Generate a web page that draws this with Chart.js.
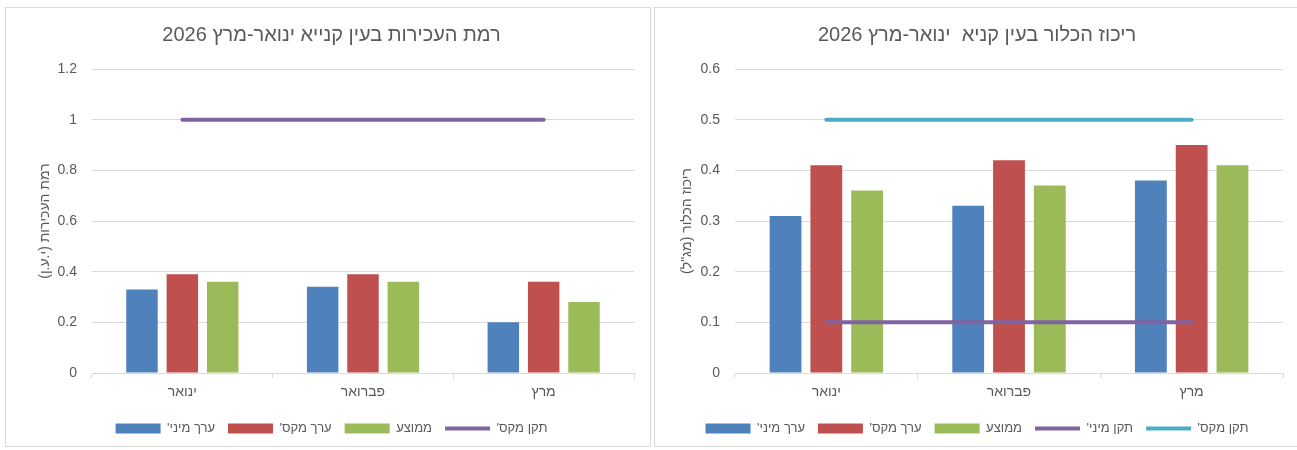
<!DOCTYPE html>
<html>
<head>
<meta charset="utf-8">
<script src="https://cdn.jsdelivr.net/npm/chart.js@4"></script>
<style>
  body { margin: 0; background: #fff; overflow: hidden; }
  .frame { position: absolute; top: 7px; height: 440px; border: 1px solid #d9d9d9; box-sizing: border-box; }
  #f1 { left: 5px; width: 646px; }
  #f2 { left: 654px; width: 646px; }
  .box { position: absolute; top: 8px; height: 437px; }
  #p1 { left: 6px; width: 644px; }
  #p2 { left: 655px; width: 644px; }
  canvas { direction: rtl; }
</style>
</head>
<body>
<div class="frame" id="f1"></div>
<div class="frame" id="f2"></div>
<div class="box" id="p1"><canvas id="turbidity"></canvas></div>
<div class="box" id="p2"><canvas id="chlorine"></canvas></div>
<script>
let months = ["ינואר", "פברואר", "מרץ"];

// turbidity (left)
let turbMin = [0.33, 0.34, 0.2];
let turbMax = [0.39, 0.39, 0.36];
let turbAvg = [0.36, 0.36, 0.28];
let turbStdMax = [1, 1, 1];
let turbTicks = ["0", "0.2", "0.4", "0.6", "0.8", "1", "1.2"];

// chlorine (right)
let chlMin = [0.31, 0.33, 0.38];
let chlMax = [0.41, 0.42, 0.45];
let chlAvg = [0.36, 0.37, 0.41];
let chlStdMin = [0.1, 0.1, 0.1];
let chlStdMax = [0.5, 0.5, 0.5];
let chlTicks = ["0", "0.1", "0.2", "0.3", "0.4", "0.5", "0.6"];

const grey = "#595959";
const gridColor = "#d9d9d9";
Chart.defaults.font.family = "'Liberation Sans', 'DejaVu Sans', Arial, sans-serif";
Chart.defaults.color = grey;

function barSet(label, data, color) {
  return {
    type: "bar",
    label: label,
    data: data,
    backgroundColor: color,
    borderWidth: 0,
    pointStyle: "rect",
    order: 1,
    categoryPercentage: 0.67,
    barPercentage: 0.78,
  };
}

function lineSet(label, data, color) {
  return {
    type: "line",
    label: label,
    data: data,
    borderColor: color,
    backgroundColor: color,
    borderWidth: 4,
    borderCapStyle: "round",
    pointRadius: 0,
    pointHoverRadius: 0,
    pointStyle: "line",
    fill: false,
    order: 0,
  };
}

function makeConfig(title, yTitle, datasets, max, step, tickLabels, padLeft, yWidth) {
  return {
    type: "bar",
    data: { labels: months, datasets: datasets },
    options: {
      responsive: true,
      maintainAspectRatio: false,
      animation: false,
      layout: { padding: { left: padLeft, right: 16, top: 0, bottom: 0 } },
      plugins: {
        title: {
          display: true,
          text: title,
          color: grey,
          font: { size: 20, weight: "normal" },
          padding: { top: 15, bottom: 22 },
        },
        legend: {
          position: "bottom",
          labels: {
            usePointStyle: true,
            pointStyleWidth: 45,
            boxHeight: 10,
            padding: 13,
            color: grey,
            font: { size: 13 },
            sort: (a, b) => a.datasetIndex - b.datasetIndex,
          },
        },
        tooltip: { enabled: false },
      },
      scales: {
        x: {
          grid: {
            drawOnChartArea: false,
            drawTicks: true,
            tickLength: 5,
            color: gridColor,
          },
          border: { color: gridColor },
          ticks: { color: grey, font: { size: 14 }, padding: 6 },
          afterFit: (scale) => {
            scale.height = 36;
          },
        },
        y: {
          min: 0,
          max: max,
          ticks: {
            stepSize: step,
            color: grey,
            font: { size: 14 },
            padding: 15,
            callback: (v, i) => tickLabels[i],
          },
          grid: { color: gridColor, drawTicks: false },
          border: { display: false },
          title: {
            display: true,
            text: yTitle,
            color: grey,
            font: { size: 14 },
            padding: 8,
          },
          afterFit: (scale) => {
            scale.width = yWidth;
          },
        },
      },
    },
  };
}

new Chart(
  document.querySelector("#turbidity"),
  makeConfig(
    "רמת העכירות בעין קנייא ינואר-מרץ 2026",
    "רמת העכירות (י.ע.ן)",
    [
      barSet("ערך מיני'", turbMin, "#4F81BD"),
      barSet("ערך מקס'", turbMax, "#C0504D"),
      barSet("ממוצע", turbAvg, "#9BBB59"),
      lineSet("תקן מקס'", turbStdMax, "#8064A2"),
    ],
    1.2,
    0.2,
    turbTicks,
    23,
    63
  )
);

new Chart(
  document.querySelector("#chlorine"),
  makeConfig(
    "ריכוז הכלור בעין קניא  ינואר-מרץ 2026",
    "ריכוז הכלור (מג\"ל)",
    [
      barSet("ערך מיני'", chlMin, "#4F81BD"),
      barSet("ערך מקס'", chlMax, "#C0504D"),
      barSet("ממוצע", chlAvg, "#9BBB59"),
      lineSet("תקן מיני'", chlStdMin, "#8064A2"),
      lineSet("תקן מקס'", chlStdMax, "#4BACC6"),
    ],
    0.6,
    0.1,
    chlTicks,
    16,
    64
  )
);
</script>
</body>
</html>
